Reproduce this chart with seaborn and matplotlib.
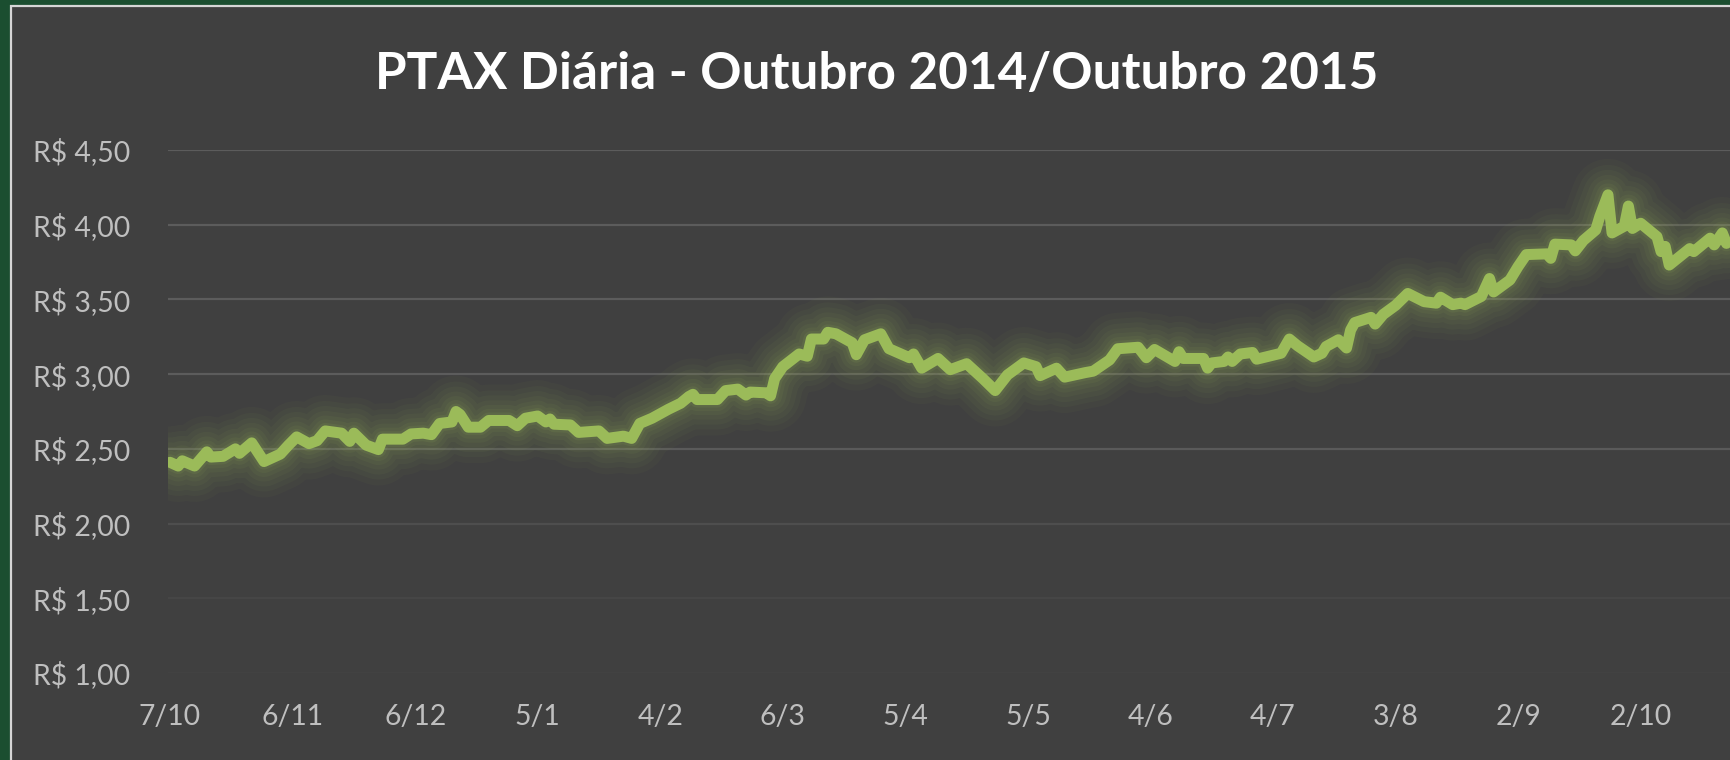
import matplotlib
matplotlib.use("Agg")
import matplotlib.pyplot as plt
from matplotlib.patches import Rectangle
import seaborn as sns
import pandas as pd

# ---------------- data ----------------
datas = [
    "2014-10-07", "2014-10-09", "2014-10-10", "2014-10-13", "2014-10-16", "2014-10-17",
    "2014-10-20", "2014-10-23", "2014-10-24", "2014-10-27", "2014-10-30", "2014-11-03",
    "2014-11-05", "2014-11-07", "2014-11-10", "2014-11-12", "2014-11-14", "2014-11-18",
    "2014-11-20", "2014-11-21", "2014-11-24", "2014-11-27", "2014-11-28", "2014-12-03",
    "2014-12-05", "2014-12-08", "2014-12-10", "2014-12-12", "2014-12-15", "2014-12-16",
    "2014-12-17", "2014-12-19", "2014-12-22", "2014-12-24", "2014-12-29", "2014-12-31",
    "2015-01-02", "2015-01-05", "2015-01-07", "2015-01-08", "2015-01-09", "2015-01-13",
    "2015-01-15", "2015-01-20", "2015-01-22", "2015-01-26", "2015-01-28", "2015-01-30",
    "2015-02-02", "2015-02-06", "2015-02-09", "2015-02-11", "2015-02-12", "2015-02-13",
    "2015-02-18", "2015-02-20", "2015-02-23", "2015-02-25", "2015-02-26", "2015-03-02",
    "2015-03-03", "2015-03-04", "2015-03-06", "2015-03-10", "2015-03-12", "2015-03-13",
    "2015-03-16", "2015-03-17", "2015-03-19", "2015-03-23", "2015-03-24", "2015-03-26",
    "2015-03-30", "2015-04-01", "2015-04-06", "2015-04-07", "2015-04-09", "2015-04-13",
    "2015-04-16", "2015-04-20", "2015-04-22", "2015-04-24", "2015-04-27", "2015-04-30",
    "2015-05-04", "2015-05-07", "2015-05-08", "2015-05-12", "2015-05-14", "2015-05-19",
    "2015-05-21", "2015-05-25", "2015-05-27", "2015-06-01", "2015-06-03", "2015-06-05",
    "2015-06-10", "2015-06-11", "2015-06-12", "2015-06-17", "2015-06-18", "2015-06-19",
    "2015-06-22", "2015-06-23", "2015-06-24", "2015-06-26", "2015-06-29", "2015-06-30",
    "2015-07-06", "2015-07-08", "2015-07-10", "2015-07-14", "2015-07-16", "2015-07-17",
    "2015-07-20", "2015-07-22", "2015-07-23", "2015-07-24", "2015-07-28", "2015-07-29",
    "2015-07-31", "2015-08-03", "2015-08-06", "2015-08-10", "2015-08-13", "2015-08-14",
    "2015-08-17", "2015-08-19", "2015-08-20", "2015-08-24", "2015-08-26", "2015-08-27",
    "2015-08-31", "2015-09-02", "2015-09-04", "2015-09-09", "2015-09-10", "2015-09-11",
    "2015-09-15", "2015-09-16", "2015-09-18", "2015-09-21", "2015-09-22", "2015-09-24",
    "2015-09-25", "2015-09-28", "2015-09-29", "2015-09-30", "2015-10-02", "2015-10-06",
    "2015-10-07", "2015-10-08", "2015-10-09", "2015-10-14", "2015-10-15", "2015-10-19",
    "2015-10-20", "2015-10-22", "2015-10-23",
]
ptax = [
    2.41, 2.385, 2.42, 2.385, 2.48, 2.445,
    2.45, 2.50, 2.47, 2.54, 2.415, 2.465,
    2.525, 2.58, 2.535, 2.555, 2.62, 2.605,
    2.55, 2.605, 2.525, 2.495, 2.565, 2.565,
    2.60, 2.605, 2.595, 2.67, 2.68, 2.75,
    2.73, 2.645, 2.645, 2.69, 2.69, 2.655,
    2.705, 2.72, 2.68, 2.70, 2.665, 2.66,
    2.61, 2.62, 2.57, 2.585, 2.57, 2.67,
    2.705, 2.765, 2.805, 2.85, 2.865, 2.83,
    2.83, 2.89, 2.90, 2.86, 2.88, 2.875,
    2.855, 2.97, 3.05, 3.135, 3.12, 3.235,
    3.235, 3.28, 3.27, 3.21, 3.13, 3.23,
    3.27, 3.17, 3.11, 3.135, 3.04, 3.105,
    3.03, 3.07, 3.02, 2.97, 2.89, 2.995,
    3.075, 3.05, 2.99, 3.04, 2.98, 3.01,
    3.02, 3.095, 3.17, 3.18, 3.11, 3.165,
    3.085, 3.15, 3.105, 3.105, 3.04, 3.075,
    3.085, 3.115, 3.085, 3.135, 3.145, 3.10,
    3.14, 3.235, 3.19, 3.115, 3.14, 3.185,
    3.23, 3.175, 3.295, 3.345, 3.38, 3.335,
    3.40, 3.46, 3.54, 3.485, 3.475, 3.515,
    3.465, 3.475, 3.465, 3.52, 3.64, 3.55,
    3.63, 3.72, 3.80, 3.805, 3.775, 3.87,
    3.865, 3.825, 3.895, 3.965, 4.055, 4.20,
    3.945, 3.99, 4.125, 3.975, 4.01, 3.92,
    3.82, 3.855, 3.73, 3.84, 3.82, 3.91,
    3.865, 3.945, 3.875,
]
y_ticks = [1.0, 1.5, 2.0, 2.5, 3.0, 3.5, 4.0, 4.5]
y_tick_labels = ["R$ 1,00", "R$ 1,50", "R$ 2,00", "R$ 2,50",
                 "R$ 3,00", "R$ 3,50", "R$ 4,00", "R$ 4,50"]
x_tick_dates = ["2014-10-07", "2014-11-06", "2014-12-06", "2015-01-05", "2015-02-04",
                "2015-03-06", "2015-04-05", "2015-05-05", "2015-06-04", "2015-07-04",
                "2015-08-03", "2015-09-02", "2015-10-02"]
x_tick_labels = ["7/10", "6/11", "6/12", "5/1", "4/2", "6/3", "5/4", "5/5",
                 "4/6", "4/7", "3/8", "2/9", "2/10"]
titulo = "PTAX Diária - Outubro 2014/Outubro 2015"

# ---------------- style ----------------
sns.set_theme(style="dark")
plt.rcParams['font.family'] = ['Lato', 'DejaVu Sans']

W, H = 1730, 760
BG = "#404040"
GREEN = "#9bbb59"
TXT = "#bfbfbf"

fig = plt.figure(figsize=(W / 100, H / 100), dpi=100, facecolor="#1b4e30")
fig.patches.append(Rectangle((11 / W, -20 / H), 1.2, (754 + 20) / H,
                             transform=fig.transFigure, facecolor=BG,
                             edgecolor="#d6d6d6", linewidth=1.6, zorder=-10))

left_px, right_px, bot_px, top_px = 168, 1763, 760 - 673, 760 - 150
ax = fig.add_axes([left_px / W, bot_px / H, (right_px - left_px) / W, (top_px - bot_px) / H])
ax.set_facecolor("none")
ax.set_zorder(1)

df = pd.DataFrame({"data": pd.to_datetime(datas), "ptax": ptax})

# gridlines (lower ones fade out as in the original)
grid_colors = ["#424242", "#464646", "#4e4e4e", "#5a5a5a", "#5c5c5c", "#5c5c5c", "#5c5c5c", "#5c5c5c"]
for yv, gc in zip(y_ticks, grid_colors):
    ax.axhline(yv, color=gc, linewidth=2.2 * 0.72, zorder=1)

# glow layers
for lw_px, a in [(72, 0.035), (60, 0.045), (50, 0.05), (40, 0.055), (31, 0.06), (23, 0.07), (16, 0.1)]:
    sns.lineplot(data=df, x="data", y="ptax", ax=ax, color=GREEN, linewidth=lw_px * 0.72,
                 alpha=a, solid_capstyle="round", solid_joinstyle="round", zorder=2)
# main line
sns.lineplot(data=df, x="data", y="ptax", ax=ax, color=GREEN, linewidth=11 * 0.72,
             solid_capstyle="round", solid_joinstyle="round", zorder=3)

x0 = pd.Timestamp("2014-10-07") - pd.Timedelta(hours=12)
px_per_day = 4.085
x1 = x0 + pd.Timedelta(days=(right_px - left_px) / px_per_day)
ax.set_xlim(x0, x1)
ax.set_ylim(1.0, 4.5)

ax.set_yticks(y_ticks)
ax.set_yticklabels(y_tick_labels)
ax.set_xticks(pd.to_datetime(x_tick_dates))
ax.set_xticklabels(x_tick_labels)
ax.set_xlabel("")
ax.set_ylabel("")

ax.grid(False)
for s in ax.spines.values():
    s.set_visible(False)

tick_fs = 21
ax.tick_params(axis="both", length=0, colors=TXT, labelsize=tick_fs)
ax.tick_params(axis="y", pad=27)
ax.tick_params(axis="x", pad=22)

t = fig.text(877 / W, 1 - 75 / H, titulo, ha="center", va="center",
             color="white", fontsize=40, fontweight="bold")

# fit sizes to measured widths
fig.canvas.draw()
bb = t.get_window_extent()
t.set_fontsize(40 * 1002 / bb.width)
lab = ax.get_yticklabels()[-1]
bbl = lab.get_window_extent()
fs = tick_fs * 97 / bbl.width
ax.tick_params(axis="both", labelsize=fs)

fig.savefig("out.png", dpi=100, facecolor=fig.get_facecolor())
